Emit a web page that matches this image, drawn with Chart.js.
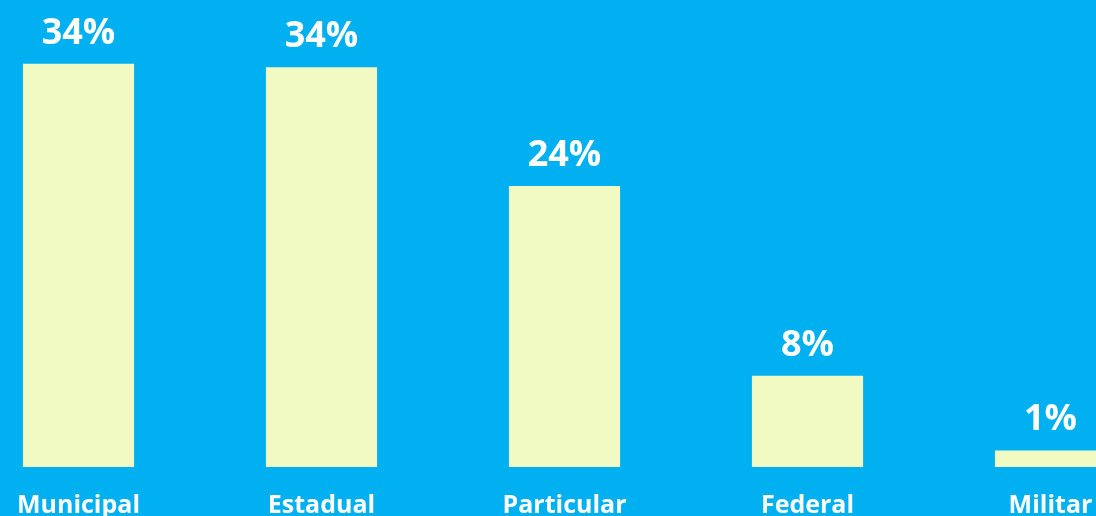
<!DOCTYPE html>
<html>
<head>
<meta charset="utf-8">
<script src="https://cdn.jsdelivr.net/npm/chart.js@4"></script>
<style>
  html, body { margin: 0; padding: 0; background: #00B0F0; overflow: hidden; }
  #wrap { position: absolute; left: -43px; top: 0; width: 1215px; height: 537px; }
</style>
</head>
<body>
<div id="wrap"><canvas id="chart"></canvas></div>
<script>
const categories = ['Municipal', 'Estadual', 'Particular', 'Federal', 'Militar'];
const shares = [34.0, 33.7, 23.7, 7.7, 1.4];
const shareLabels = ['34%', '34%', '24%', '8%', '1%'];

const FONT = "'Open Sans', 'Noto Sans', sans-serif";

// draws the percentage above each bar
const topLabels = {
  id: 'topLabels',
  afterDatasetsDraw(chart) {
    const ctx = chart.ctx;
    const meta = chart.getDatasetMeta(0);
    ctx.save();
    ctx.font = `bold 36px ${FONT}`;
    ctx.fillStyle = '#ffffff';
    ctx.textAlign = 'center';
    ctx.textBaseline = 'alphabetic';
    meta.data.forEach((bar, i) => {
      ctx.fillText(shareLabels[i], bar.x, bar.y - 20);
    });
    ctx.restore();
  }
};

new Chart(document.getElementById('chart'), {
  type: 'bar',
  data: {
    labels: categories,
    datasets: [{
      data: shares,
      backgroundColor: '#F0FAC2',
      borderWidth: 0,
      categoryPercentage: 1,
      barPercentage: 0.4575
    }]
  },
  options: {
    responsive: true,
    maintainAspectRatio: false,
    animation: false,
    layout: { padding: { top: 40, left: 0, right: 0, bottom: 0 } },
    scales: {
      y: { display: false, min: 0, max: 36 },
      x: {
        grid: { display: false },
        border: { display: false },
        ticks: {
          color: '#ffffff',
          padding: 16,
          font: { family: FONT, size: 25, weight: 'bold' }
        }
      }
    },
    plugins: {
      legend: { display: false },
      tooltip: { enabled: false }
    }
  },
  plugins: [topLabels]
});
</script>
</body>
</html>
